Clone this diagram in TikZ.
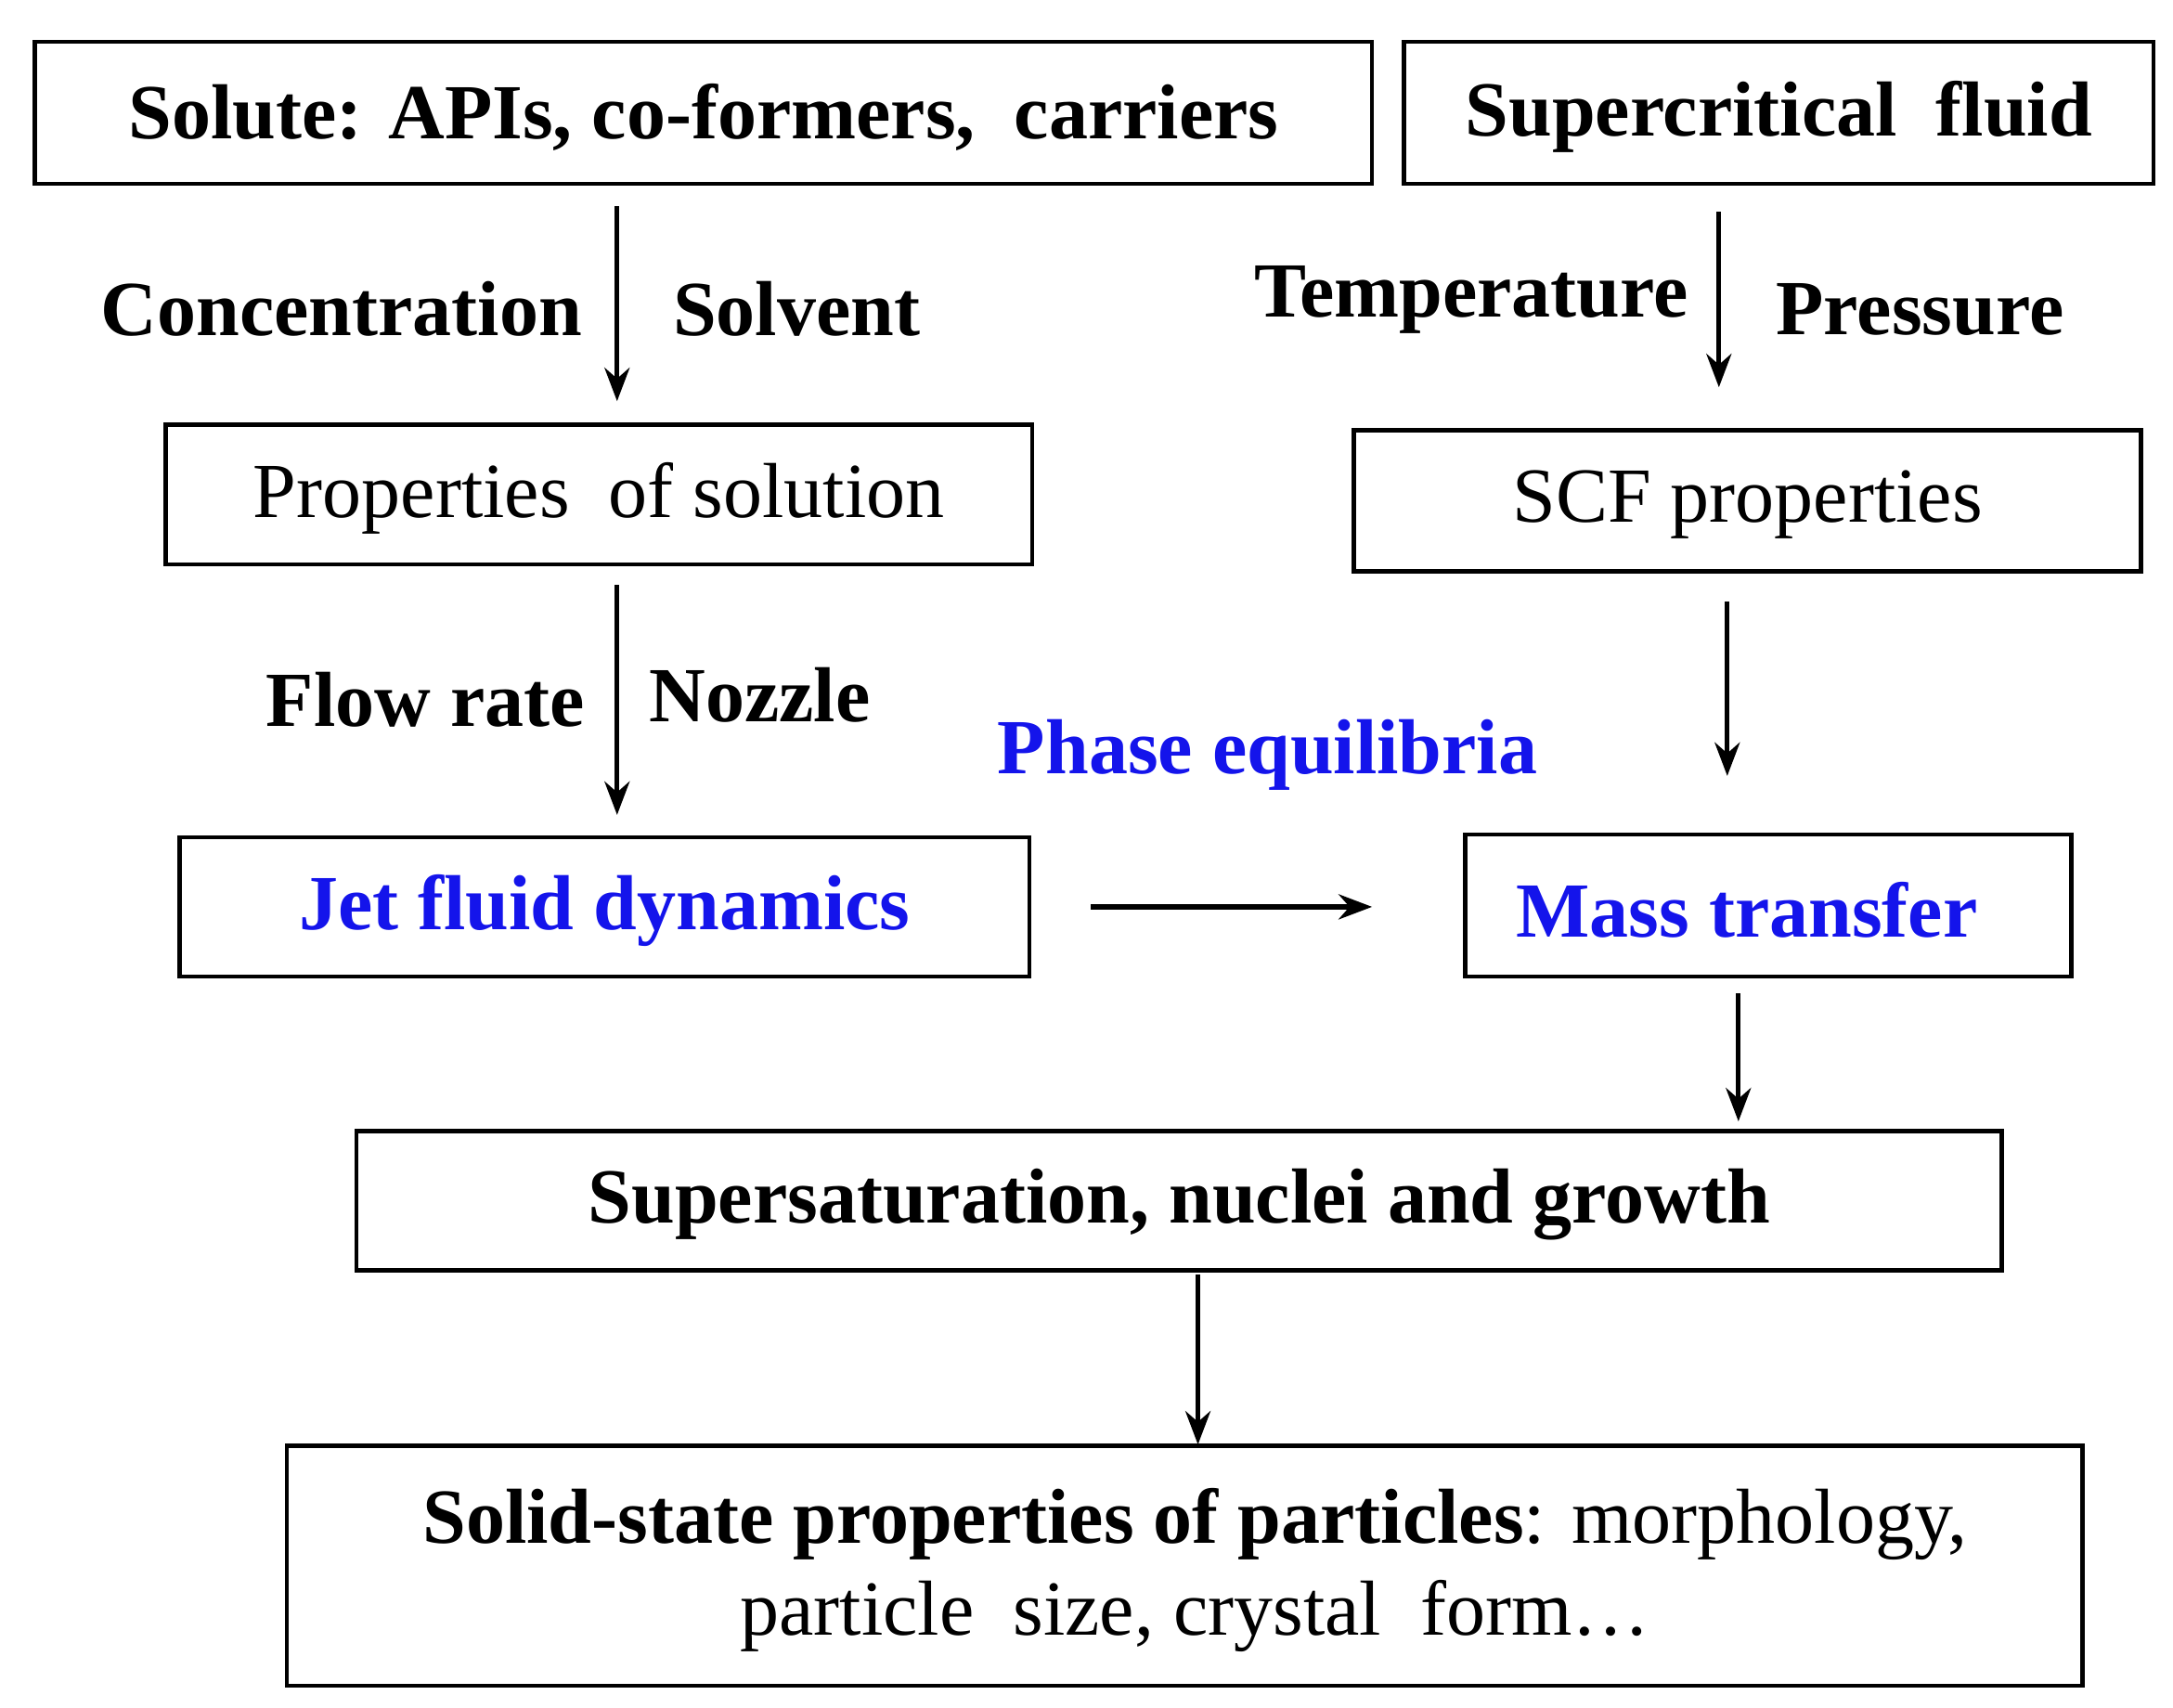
\documentclass[tikz,border=0pt]{standalone}
\usepackage{fontspec}
\setmainfont{Liberation Serif}
\usetikzlibrary{arrows.meta}
\definecolor{myblue}{RGB}{20,20,235}
\begin{document}
\begin{tikzpicture}[x=1pt,y=-1pt,
 bx/.style={draw,line width=3pt,inner sep=0pt},
 arr/.style={line width=3.5pt,-{Stealth[length=24pt,width=18pt]}},
 lbl/.style={font=\fontsize{56}{62}\selectfont\bfseries,inner sep=0pt},
 txt/.style={font=\fontsize{56}{62}\selectfont,inner sep=0pt}]
\useasboundingbox (0,0) rectangle (1560,1226);
\node[bx,minimum width=960pt,minimum height=102pt] (solute) at (505,81) {};
\node[lbl] at (505,84) {Solute: APIs, co-formers,\ \ carriers};
\node[bx,minimum width=538pt,minimum height=102pt] (scf) at (1277,81) {};
\node[lbl] at (1277,84) {Supercritical\ \ fluid};
\node[bx,minimum width=622pt,minimum height=100pt] (prop) at (430,355) {};
\node[txt] at (430,358) {Properties\ \ of solution};
\node[bx,minimum width=565pt,minimum height=101pt] (scfp) at (1254.5,359.5) {};
\node[txt] at (1254.5,362) {SCF properties};
\node[bx,minimum width=610pt,minimum height=100pt] (jet) at (434,651) {};
\node[lbl,text=myblue] at (434,654) {Jet fluid dynamics};
\node[bx,minimum width=435pt,minimum height=102pt] (mass) at (1269.5,650) {};
\node[lbl,text=myblue] at (1254,653) {Mass transfer};
\node[bx,minimum width=1181pt,minimum height=100pt] (sup) at (846.5,862) {};
\node[lbl] at (846.5,865) {Supersaturation,\ nuclei and growth};
\node[bx,minimum width=1289pt,minimum height=172pt] (solid) at (850.5,1124) {};
\node[txt,align=center] at (858,1127) {\textbf{Solid-state properties of particles}: morphology,\\[4pt] particle\ \ size, crystal\ \ form\ldots};
\coordinate (a1) at (443,148); \coordinate (a2) at (443,288);
\draw[arr] (a1) -- (a2);
\coordinate (b1) at (1234,152); \coordinate (b2) at (1234,278);
\draw[arr] (b1) -- (b2);
\coordinate (c1) at (443,420); \coordinate (c2) at (443,585);
\draw[arr] (c1) -- (c2);
\coordinate (d1) at (1240,432); \coordinate (d2) at (1240,557);
\draw[arr] (d1) -- (d2);
\coordinate (e1) at (783,651); \coordinate (e2) at (985,651);
\draw[arr] (e1) -- (e2);
\coordinate (f1) at (1248,713); \coordinate (f2) at (1248,805);
\draw[arr] (f1) -- (f2);
\coordinate (g1) at (860,915); \coordinate (g2) at (860,1037);
\draw[arr] (g1) -- (g2);
\node[lbl,anchor=east] (l1) at (418,222) {Concentration};
\node[lbl,anchor=west] (l2) at (483,222) {Solvent};
\node[lbl,anchor=east] (l3) at (1212,215) {Temperature};
\node[lbl,anchor=west] (l4) at (1275,222) {Pressure};
\node[lbl,anchor=east] (l5) at (420,502) {Flow\ rate};
\node[lbl,anchor=west] (l6) at (466,499) {Nozzle};
\node[lbl,text=myblue] (l7) at (910,542) {Phase equilibria};
\end{tikzpicture}
\end{document}
